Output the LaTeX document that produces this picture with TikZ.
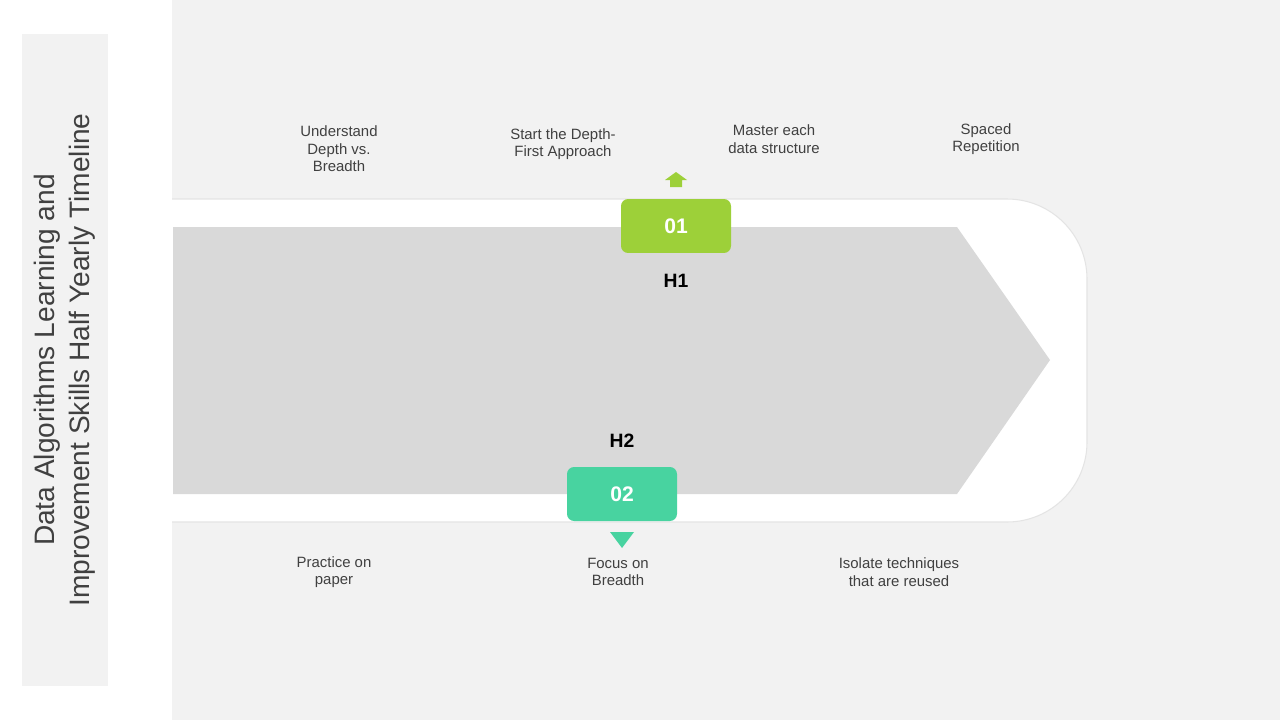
\documentclass[tikz,border=0pt]{standalone}
\usepackage{fontspec}
\setmainfont{Liberation Sans}
\usetikzlibrary{positioning,shapes.geometric}
\definecolor{tlpanel}{RGB}{242,242,242}
\definecolor{tlarrow}{RGB}{217,217,217}
\definecolor{tlgreen}{RGB}{157,208,57}
\definecolor{tlteal}{RGB}{72,211,160}
\definecolor{tltext}{RGB}{64,64,64}
\begin{document}
\begin{tikzpicture}[x=0.02cm,y=-0.02cm,
  step text/.style={font=\fontsize{8.5}{10}\selectfont, text=tltext, align=center},
  badge/.style={rounded corners=4pt, minimum width=2.2cm, minimum height=1.08cm,
    text=white, font=\bfseries\fontsize{12}{14}\selectfont},
  half/.style={font=\bfseries\fontsize{11}{13}\selectfont}]
\useasboundingbox (0,0) rectangle (1280,720);
% Panels
\fill[tlpanel] (22,34) rectangle (108,686);
\fill[tlpanel] (172,0) rectangle (1280,720);
\draw[fill=white, draw=tlarrow!70, line width=0.6pt] (172,199)
  [rounded corners=1.6cm] -- (1087,199) -- (1087,522) [sharp corners] -- (172,522);
\fill[white] (172,200) rectangle (900,521);
% Arrow
\fill[tlarrow] (173,227) -- (957,227) -- (1050,360) -- (957,494) -- (173,494) -- cycle;
% Title
\node[rotate=90, align=center, text=tltext, font=\fontsize{16}{20}\selectfont] (title) at (65,360)
  {Data Algorithms Learning and\\Improvement Skills Half Yearly Timeline};
% Badges
\node[badge, fill=tlgreen] (b1) at (676,226) {01};
\node[badge, fill=tlteal] (b2) at (622,494) {02};
\node[half] (h1) at (676,281) {H1};
\node[half] (h2) at (622,441) {H2};
\fill[tlgreen] (670,187) -- (670,180) -- (665,180) -- (676,172) -- (687,180) -- (682,180) -- (682,187) -- cycle;
\fill[tlteal] (610,532) -- (634,532) -- (622,548) -- cycle;
% Step texts
\node[step text] (s1) at (339,149) {Understand\\Depth vs.\\Breadth};
\node[step text] (s2) at (563,144) {Start the Depth-\\First Approach};
\node[step text] (s3) at (774,139) {Master each\\data structure};
\node[step text] (s4) at (986,139) {Spaced\\Repetition};
\node[step text] (s5) at (334,572) {Practice on\\paper};
\node[step text] (s6) at (618,572) {Focus on\\Breadth};
\node[step text] (s7) at (899,572) {Isolate techniques\\that are reused};
\end{tikzpicture}
\end{document}
